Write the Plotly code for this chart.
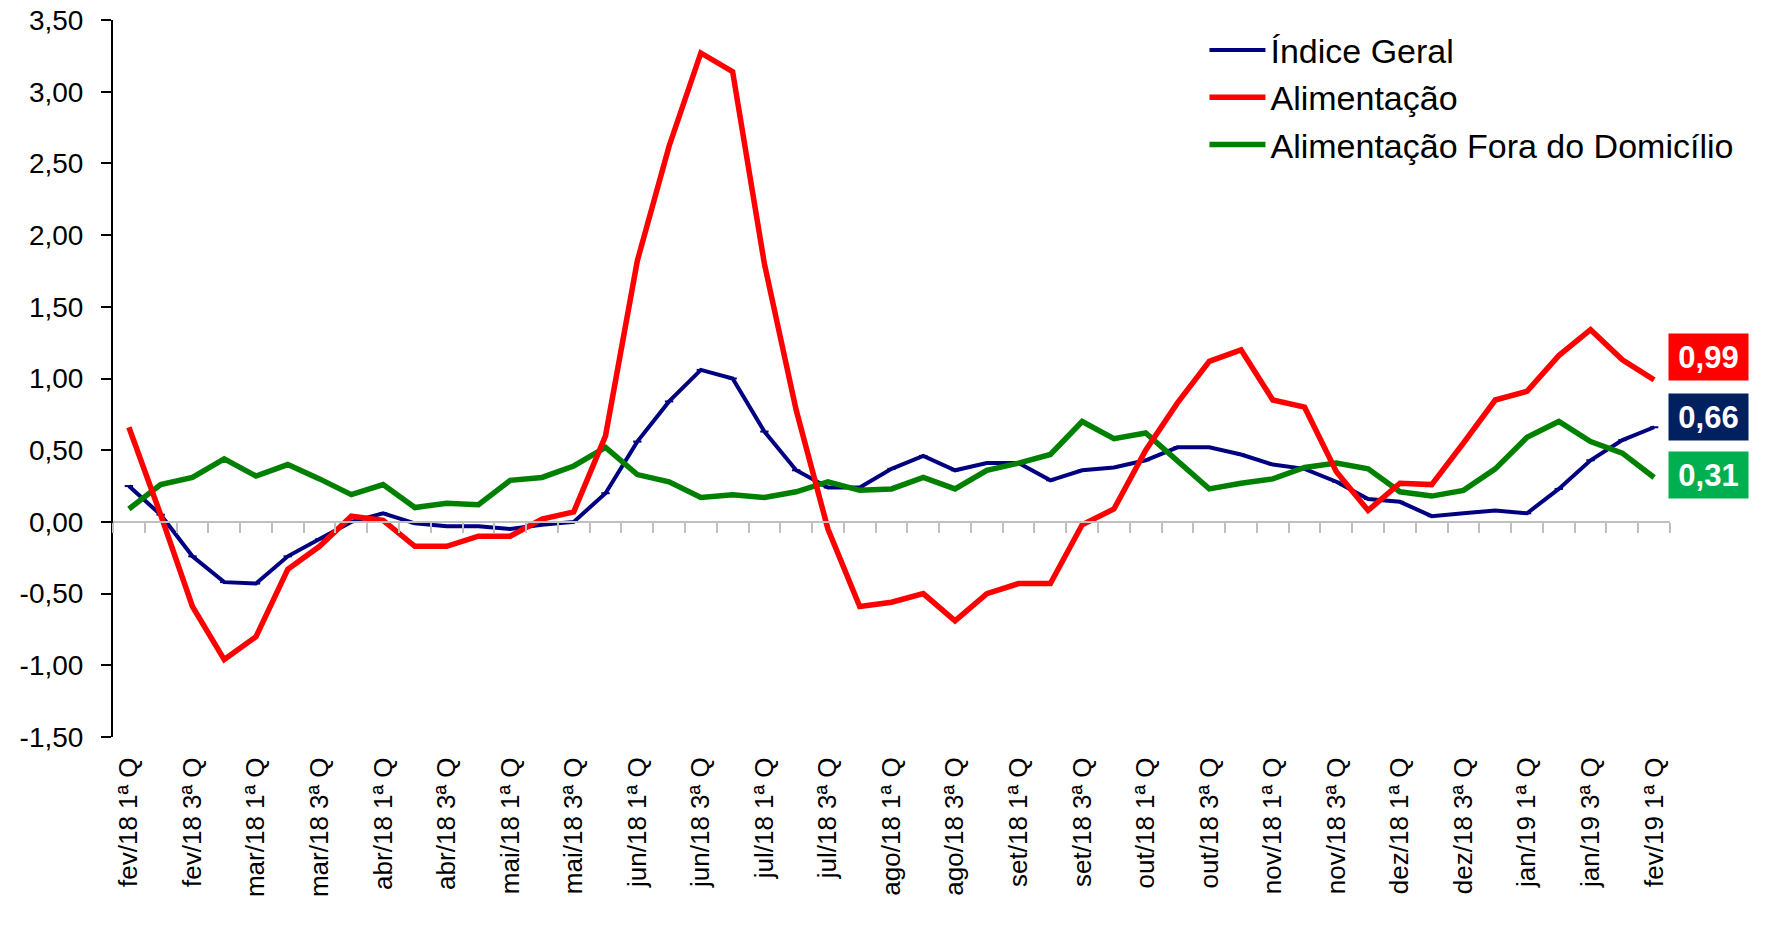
import plotly.graph_objects as go

months = ["fev/18", "mar/18", "abr/18", "mai/18", "jun/18", "jul/18", "ago/18",
          "set/18", "out/18", "nov/18", "dez/18", "jan/19"]
final_month = "fev/19"
quads = ["1ª Q", "2ª Q", "3ª Q", "4ª Q"]

categories = [f"{m} {q}" for m in months for q in quads] + [f"{final_month} 1ª Q"]

indice_geral = [0.25, 0.05, -0.24, -0.42, -0.43, -0.24, -0.12, 0.00, 0.06, -0.01,
                -0.03, -0.03, -0.05, -0.02, 0.00, 0.20, 0.56, 0.84, 1.06, 1.00,
                0.63, 0.36, 0.24, 0.24, 0.37, 0.46, 0.36, 0.41, 0.41, 0.29,
                0.36, 0.38, 0.43, 0.52, 0.52, 0.47, 0.40, 0.37, 0.28, 0.16,
                0.14, 0.04, 0.06, 0.08, 0.06, 0.23, 0.43, 0.57, 0.66]

alimentacao = [0.66, 0.05, -0.59, -0.96, -0.80, -0.33, -0.17, 0.04, 0.01, -0.17,
               -0.17, -0.10, -0.10, 0.02, 0.07, 0.60, 1.82, 2.62, 3.27, 3.14,
               1.80, 0.78, -0.05, -0.59, -0.56, -0.50, -0.69, -0.50, -0.43, -0.43,
               -0.02, 0.09, 0.50, 0.83, 1.12, 1.20, 0.85, 0.80, 0.35, 0.08,
               0.27, 0.26, 0.55, 0.85, 0.91, 1.16, 1.34, 1.13, 0.99]

fora_domicilio = [0.09, 0.26, 0.31, 0.44, 0.32, 0.40, 0.30, 0.19, 0.26, 0.10,
                  0.13, 0.12, 0.29, 0.31, 0.39, 0.52, 0.33, 0.28, 0.17, 0.19,
                  0.17, 0.21, 0.28, 0.22, 0.23, 0.31, 0.23, 0.36, 0.41, 0.47,
                  0.70, 0.58, 0.62, 0.43, 0.23, 0.27, 0.30, 0.38, 0.41, 0.37,
                  0.21, 0.18, 0.22, 0.37, 0.59, 0.70, 0.56, 0.48, 0.31]

y_ticks = [-1.5, -1.0, -0.5, 0.0, 0.5, 1.0, 1.5, 2.0, 2.5, 3.0, 3.5]
y_ticktext = [f"{v:.2f}".replace(".", ",") for v in y_ticks]

FONT = "Liberation Sans, Arial, sans-serif"
x_idx = list(range(len(categories)))

fig = go.Figure()
fig.add_trace(go.Scatter(x=x_idx, y=indice_geral, mode="lines+markers", name="Índice Geral",
                         line=dict(color="#000080", width=4),
                         marker=dict(symbol="line-ew", size=6, color="#000080",
                                     line=dict(color="#000080", width=2)),
                         legendrank=1, legendgroup="a"))
fig.add_trace(go.Scatter(x=x_idx, y=fora_domicilio, mode="lines", name="Alimentação Fora do Domicílio",
                         line=dict(color="#008000", width=5.5),
                         legendrank=3, legendgroup="c"))
fig.add_trace(go.Scatter(x=x_idx, y=alimentacao, mode="lines", name="Alimentação",
                         line=dict(color="#FF0000", width=5.5),
                         legendrank=2, legendgroup="b"))
# helper trace for the zero-line axis with boundary ticks
fig.add_trace(go.Scatter(x=[x_idx[0]], y=[0], xaxis="x2", mode="markers",
                         marker=dict(opacity=0), showlegend=False, hoverinfo="skip"))

tickvals = x_idx[::2]
ticktext = [categories[i] for i in tickvals]
ymin, ymax = y_ticks[0], y_ticks[-1]
zero_pos = (0 - ymin) / (ymax - ymin)

fig.update_layout(
    width=1766, height=930,
    paper_bgcolor="white", plot_bgcolor="white",
    margin=dict(l=113, r=96, t=20, b=193),
    font=dict(family=FONT, color="black"),
    showlegend=True,
    legend=dict(x=0.701, y=0.998, xanchor="left", yanchor="top",
                font=dict(size=34, family=FONT, color="black"),
                itemwidth=56, tracegroupgap=9, bgcolor="rgba(0,0,0,0)",
                traceorder="normal"),
    xaxis=dict(range=[-0.5, len(categories) - 0.5], tickmode="array",
               tickvals=tickvals, ticktext=ticktext, tickangle=-90,
               showline=False, showgrid=False, zeroline=False, automargin=False,
               ticks="outside", ticklen=9, tickcolor="rgba(0,0,0,0)",
               tickfont=dict(size=26, family=FONT, color="black")),
    xaxis2=dict(range=[-0.5, len(categories) - 0.5], overlaying="x", anchor="free",
                position=zero_pos, side="bottom", automargin=False,
                tickmode="array", tickvals=[i - 0.5 for i in range(len(categories) + 1)],
                showticklabels=False, ticks="outside", ticklen=10, tickwidth=2,
                tickcolor="#BFBFBF", showline=True, linecolor="#BFBFBF", linewidth=2,
                showgrid=False, zeroline=False),
    yaxis=dict(range=[ymin, ymax], tickmode="array", tickvals=y_ticks, ticktext=y_ticktext,
               showline=True, linecolor="black", linewidth=2, automargin=False,
               ticks="outside", ticklen=10, tickwidth=2, tickcolor="black",
               showgrid=False, zeroline=False, ticklabelstandoff=12,
               ticklabeloverflow="allow",
               tickfont=dict(size=28, family=FONT, color="black")),
)

# end-value labels
end_labels = [
    (alimentacao[-1], "#FF0000", 23),
    (indice_geral[-1], "#002060", 10),
    (fora_domicilio[-1], "#00B050", 2),
]
for val, col, shift in end_labels:
    fig.add_annotation(x=1.0245, xref="paper", y=val, yref="y", yshift=shift,
                       xanchor="center", yanchor="middle",
                       text=f"<b>{val:.2f}</b>".replace(".", ","), showarrow=False,
                       bgcolor=col, width=77, height=44, align="center", valign="middle",
                       font=dict(size=31, color="white", family=FONT))

# remove the browser's default 8px page margin so the figure fills the window exactly
fig.write_html("out.html", config={"displayModeBar": False},
               post_script="document.body.style.margin='0px';")
